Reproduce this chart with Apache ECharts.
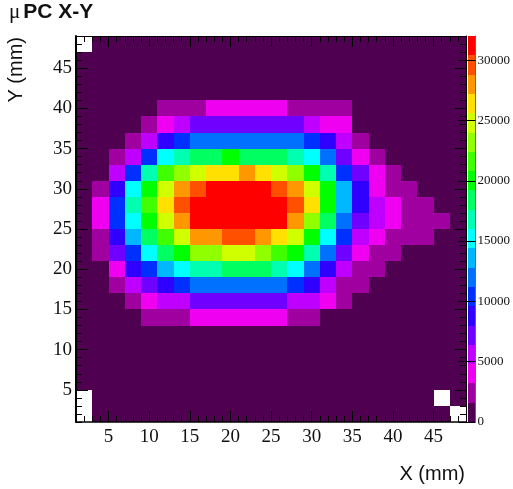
<!DOCTYPE html>
<html><head><meta charset="utf-8">
<style>html,body{margin:0;padding:0;background:#fff}#c{width:513px;height:489px}</style>
<script src="https://cdn.jsdelivr.net/npm/echarts@6/dist/echarts.min.js"></script>
</head><body><div id="c"></div>
<script>
// bin centres (mm), each bin is 2 mm wide
const xBins = [2,4,6,8,10,12,14,16,18,20,22,24,26,28,30,32,34,36,38,40,42,44,46,48];
const yBinsTopDown = [48,46,44,42,40,38,36,34,32,30,28,26,24,22,20,18,16,14,12,10,8,6,4,2];
const _ = null; // empty bin
const rowY48 = [_,800,800,800,800,800,800,800,800,800,800,800,800,800,800,800,800,800,800,800,800,800,800,800];
const rowY46 = [800,800,800,800,800,800,800,800,800,800,800,800,800,800,800,800,800,800,800,800,800,800,800,800];
const rowY44 = [800,800,800,800,800,800,800,800,800,800,800,800,800,800,800,800,800,800,800,800,800,800,800,800];
const rowY42 = [800,800,800,800,800,800,800,800,800,800,800,800,800,800,800,800,800,800,800,800,800,800,800,800];
const rowY40 = [800,800,800,800,800,2400,2400,2400,4000,4000,4000,4000,4000,2400,2400,2400,2400,800,800,800,800,800,800,800];
const rowY38 = [800,800,800,800,2400,4000,5600,7200,7200,7200,7200,7200,7200,7200,5600,4000,4000,800,800,800,800,800,800,800];
const rowY36 = [800,800,800,2400,5600,8800,10400,12000,12000,12000,12000,12000,12000,12000,10400,8800,5600,2400,800,800,800,800,800,800];
const rowY34 = [800,800,2400,5600,10400,15200,16800,18400,18400,20000,18400,18400,18400,16800,15200,12000,7200,4000,2400,800,800,800,800,800];
const rowY32 = [800,800,5600,10400,16800,21600,23200,24800,26400,26400,28000,26400,24800,23200,20000,16800,10400,7200,4000,2400,800,800,800,800];
const rowY30 = [800,2400,8800,15200,20000,24800,28000,29600,31200,31200,31200,31200,29600,28000,24800,20000,13600,8800,4000,2400,2400,800,800,800];
const rowY28 = [800,4000,10400,16800,21600,26400,29600,31200,31200,31200,31200,31200,31200,29600,26400,20000,13600,8800,5600,4000,2400,2400,800,800];
const rowY26 = [800,4000,10400,15200,20000,24800,28000,31200,31200,31200,31200,31200,31200,28000,23200,18400,12000,7200,5600,4000,2400,2400,2400,800];
const rowY24 = [800,2400,8800,13600,18400,21600,24800,28000,28000,29600,29600,28000,26400,24800,20000,15200,10400,5600,4000,2400,2400,2400,800,800];
const rowY22 = [800,2400,7200,10400,15200,18400,20000,23200,23200,24800,24800,23200,21600,20000,16800,12000,7200,4000,2400,2400,800,800,800,800];
const rowY20 = [800,800,4000,8800,10400,13600,15200,16800,16800,18400,18400,18400,16800,15200,12000,8800,5600,2400,2400,800,800,800,800,800];
const rowY18 = [800,800,2400,5600,7200,8800,10400,12000,12000,12000,12000,12000,12000,10400,8800,5600,2400,2400,800,800,800,800,800,800];
const rowY16 = [800,800,800,2400,4000,5600,5600,7200,7200,7200,7200,7200,7200,5600,5600,4000,2400,800,800,800,800,800,800,800];
const rowY14 = [800,800,800,800,2400,2400,2400,4000,4000,4000,4000,4000,4000,2400,2400,800,800,800,800,800,800,800,800,800];
const rowY12 = [800,800,800,800,800,800,800,800,800,800,800,800,800,800,800,800,800,800,800,800,800,800,800,800];
const rowY10 = [800,800,800,800,800,800,800,800,800,800,800,800,800,800,800,800,800,800,800,800,800,800,800,800];
const rowY8  = [800,800,800,800,800,800,800,800,800,800,800,800,800,800,800,800,800,800,800,800,800,800,800,800];
const rowY6  = [800,800,800,800,800,800,800,800,800,800,800,800,800,800,800,800,800,800,800,800,800,800,800,800];
const rowY4  = [_,800,800,800,800,800,800,800,800,800,800,800,800,800,800,800,800,800,800,800,800,800,_,800];
const rowY2  = [_,800,800,800,800,800,800,800,800,800,800,800,800,800,800,800,800,800,800,800,800,800,800,_];
const rows = [rowY48,rowY46,rowY44,rowY42,rowY40,rowY38,rowY36,rowY34,rowY32,rowY30,rowY28,rowY26,rowY24,rowY22,rowY20,rowY18,rowY16,rowY14,rowY12,rowY10,rowY8,rowY6,rowY4,rowY2];

const xTickValues = [5,10,15,20,25,30,35,40,45];
const yTickValues = [5,10,15,20,25,30,35,40,45];
const zTickValues = [0,5000,10000,15000,20000,25000,30000];
const levelEdges = [0,1600,3200,4800,6400,8000,9600,11200,12800,14400,16000,17600,19200,20800,22400,24000,25600,27200,28800,30400,32000];
const palette = ['#500050','#a000a0','#f000f0','#c000ff','#7000ff','#3000ff','#0030ff','#0070ff','#00b8ff','#00ffff','#00ffb0','#00ff60','#00ff00','#40ff00','#90ff00','#d0ff00','#ffe000','#ff9800','#ff5000','#ff0000'];

const cells = [];
rows.forEach((row, r) => row.forEach((v, c) => {
  if (v !== null) cells.push([xBins[c], yBinsTopDown[r], v]);
}));
// colour scale: one band per level, [lower edge, upper edge, level value]
const bandCells = palette.map((_c, i) => [levelEdges[i], levelEdges[i + 1], (levelEdges[i] + levelEdges[i + 1]) / 2]);

const serif = 'Liberation Serif', sans = 'Liberation Sans', ink = '#000', textInk = '#111';

function majorAxis(position, values, lineWidth, extra) {
  return Object.assign({
    type: 'value', gridIndex: 0, position, min: 1, max: 49, z: 10,
    splitLine: {show: false},
    axisLine: {show: true, onZero: false, lineStyle: {color: ink, width: lineWidth}},
    axisTick: {show: true, inside: true, length: 11, customValues: values, lineStyle: {color: ink, width: 1}},
    axisLabel: {show: false}
  }, extra || {});
}
function minorAxis(position) {
  return {
    type: 'value', gridIndex: 0, position, min: 1, max: 49, interval: 1, z: 10,
    splitLine: {show: false},
    axisLine: {show: false, onZero: false},
    axisTick: {show: true, inside: true, length: 6, lineStyle: {color: ink, width: 1}},
    axisLabel: {show: false}
  };
}
function cellRenderer(params, api) {
  const x = api.value(0), y = api.value(1);
  const p0 = api.coord([x - 1, y + 1]), p1 = api.coord([x + 1, y - 1]);
  const left = Math.round(p0[0]), top = Math.round(p0[1]);
  return {
    type: 'rect',
    shape: {x: left, y: top, width: Math.round(p1[0]) - left, height: Math.round(p1[1]) - top},
    style: {fill: api.visual('color')}
  };
}
function bandRenderer(params, api) {
  const p0 = api.coord([0, api.value(1)]), p1 = api.coord([1, api.value(0)]);
  const left = Math.round(p0[0]), top = Math.round(p0[1]);
  return {
    type: 'rect',
    shape: {x: left, y: top, width: Math.round(p1[0]) - left, height: Math.round(p1[1]) - top},
    style: {fill: api.visual('color')}
  };
}

const chart = echarts.init(document.getElementById('c'), null, {renderer: 'canvas'});
chart.setOption({
  backgroundColor: '#fff',
  animation: false,
  title: {
    left: 9, top: 2, padding: 0,
    text: '{mu|μ}{b|PC X-Y}',
    textStyle: {fontWeight: 'normal', rich: {
      mu: {fontFamily: serif, fontWeight: 'normal', fontSize: 21, color: textInk, padding: [0, 3, 0, 0]},
      b: {fontFamily: sans, fontWeight: 'bold', fontSize: 21, color: textInk}
    }}
  },
  grid: [
    {left: 76, right: 47, top: 36, bottom: 67},
    {left: 468, right: 37, top: 36, bottom: 67}
  ],
  xAxis: [
    majorAxis('bottom', xTickValues, 1.5, {
      axisLabel: {show: true, margin: 6, customValues: xTickValues, hideOverlap: false, fontFamily: serif, fontSize: 19, color: textInk},
      name: 'X (mm)', nameLocation: 'end', nameGap: -1,
      nameTextStyle: {fontFamily: sans, fontSize: 20, color: textInk, align: 'right', verticalAlign: 'top', padding: [42, 0, 0, 0]}
    }),
    minorAxis('bottom'),
    majorAxis('top', xTickValues, 1),
    minorAxis('top'),
    {type: 'value', gridIndex: 1, min: 0, max: 1, show: false}
  ],
  yAxis: [
    majorAxis('left', yTickValues, 2, {
      axisTick: {show: true, inside: true, length: 12, customValues: yTickValues, lineStyle: {color: ink, width: 1}},
      axisLabel: {show: true, margin: 4, padding: [6, 0, 0, 0], customValues: yTickValues, hideOverlap: false, fontFamily: serif, fontSize: 19, color: textInk},
      name: 'Y (mm)', nameLocation: 'end', nameGap: -1, nameRotate: 90,
      nameTextStyle: {fontFamily: sans, fontSize: 20, color: textInk, align: 'right', verticalAlign: 'bottom', padding: [0, 0, 50, 0]}
    }),
    minorAxis('left'),
    majorAxis('right', yTickValues, 1),
    minorAxis('right'),
    {
      type: 'value', gridIndex: 1, position: 'right', min: 0, max: 32000, z: 10,
      splitLine: {show: false},
      axisLine: {show: true, onZero: false, lineStyle: {color: '#666', width: 1}},
      axisTick: {show: true, inside: true, length: 17, customValues: zTickValues, lineStyle: {color: ink, width: 1}},
      axisLabel: {show: true, margin: 2, customValues: zTickValues, formatter: v => String(v), fontFamily: serif, fontSize: 13, color: textInk, hideOverlap: false}
    }
  ],
  visualMap: {
    type: 'piecewise', show: false, seriesIndex: [0, 1], dimension: 2,
    pieces: palette.map((color, i) => ({gte: levelEdges[i], lt: levelEdges[i + 1], color}))
  },
  series: [
    {type: 'custom', xAxisIndex: 0, yAxisIndex: 0, data: cells, encode: {x: 0, y: 1}, renderItem: cellRenderer, silent: true, z: 2},
    {type: 'custom', xAxisIndex: 4, yAxisIndex: 4, data: bandCells, encode: {y: [0, 1]}, renderItem: bandRenderer, silent: true, z: 2}
  ]
});
</script></body></html>
